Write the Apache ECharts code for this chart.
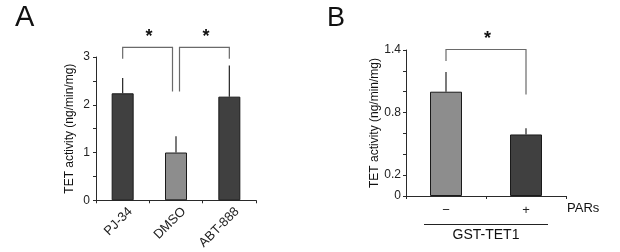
<!DOCTYPE html>
<html>
<head>
<meta charset="utf-8">
<script src="https://cdn.jsdelivr.net/npm/echarts@6/dist/echarts.min.js"></script>
<style>
html,body{margin:0;padding:0;background:#fff;}
#chart{width:620px;height:252px;}
</style>
</head>
<body>
<div id="chart"></div>
<script>
// ---- Data: panel A ----
const categoriesA = ['PJ-34', 'DMSO', 'ABT-888'];
const valuesA = [2.24, 1.00, 2.17];
const errorsA = [0.32, 0.34, 0.65];
// [leftCategory, rightCategory, top, leftLegEnd, rightLegEnd]
const bracketsA = [[0, 1, 3.20, 2.965, 2.28], [1, 2, 3.20, 2.28, 2.965]];
const yLabelsA = [0, 1, 2, 3];

// ---- Data: panel B ----
const categoriesB = ['\u2212', '+'];
const valuesB = [1.00, 0.59];
const errorsB = [0.19, 0.06];
const bracketsB = [[0, 1, 1.405, 1.294, 0.974]];
const yLabelsB = [0, 0.2, 0.8, 1.4];

const yNameText = 'TET activity (ng/min/mg)';
const panelLabels = ['A', 'B'];
const groupLabelB = 'GST-TET1';
const rowLabelB = 'PARs';
const sigMark = '*';

const FONT = '"Liberation Sans", Arial, Helvetica, sans-serif';
const DARK = '#404040', GRAY = '#8d8d8d', EDGE = '#1a1a1a', AXIS = '#2a2a2a';
const barColorsA = [DARK, GRAY, DARK];
const barColorsB = [GRAY, DARK];

function errorSeries(axisIdx, vals, errs) {
  return {
    type: 'custom', xAxisIndex: axisIdx, yAxisIndex: axisIdx, z: 1,
    data: vals.map((v, i) => [i, v, v + errs[i]]),
    encode: { x: 0, y: [1, 2] },
    renderItem: function (params, api) {
      const p0 = api.coord([api.value(0), api.value(1)]);
      const p1 = api.coord([api.value(0), api.value(2)]);
      return { type: 'line', shape: { x1: p0[0], y1: p0[1], x2: p1[0], y2: p1[1] },
        style: { stroke: '#222', lineWidth: 1.2 } };
    }
  };
}

function bracketSeries(axisIdx, brackets) {
  const count = {};
  brackets.forEach(b => { count[b[0]] = (count[b[0]] || 0) + 1; count[b[1]] = (count[b[1]] || 0) + 1; });
  return {
    type: 'custom', xAxisIndex: axisIdx, yAxisIndex: axisIdx, z: 3, clip: false,
    data: brackets,
    encode: { x: [0, 1], y: [2, 3, 4] },
    renderItem: function (params, api) {
      const li = api.value(0), ri = api.value(1);
      const top = api.value(2), le = api.value(3), re = api.value(4);
      const lTop = api.coord([li, top]);
      const rTop = api.coord([ri, top]);
      const lx = lTop[0] + (count[li] > 1 ? 3.5 : 0);
      const rx = rTop[0] - (count[ri] > 1 ? 3.5 : 0);
      const ly = api.coord([li, le])[1];
      const ry = api.coord([ri, re])[1];
      const ty = lTop[1];
      return {
        type: 'group',
        children: [
          { type: 'polyline', shape: { points: [[lx, ly], [lx, ty], [rx, ty], [rx, ry]] },
            style: { stroke: '#6a6a6a', lineWidth: 1.2, fill: null } },
          { type: 'text', style: { text: sigMark, x: (lx + rx) / 2 + 1.5, y: ty - 10,
            align: 'center', verticalAlign: 'middle', font: 'bold 18px ' + FONT, fill: '#111' } }
        ]
      };
    }
  };
}

const axisLineStyle = { show: true, lineStyle: { color: AXIS, width: 1 } };
const labelBase = { color: '#222', fontFamily: FONT };

const option = {
  animation: false,
  backgroundColor: '#fff',
  grid: [
    { left: 96, top: 57, width: 160, height: 146 },
    { left: 406, top: 50, width: 160, height: 146 }
  ],
  xAxis: [
    { type: 'category', gridIndex: 0, data: categoriesA,
      axisLine: axisLineStyle, axisTick: { show: true, length: 3, lineStyle: { color: AXIS } },
      axisLabel: Object.assign({}, labelBase, { rotate: 45, fontSize: 13, margin: 17, interval: 0,
        padding: [0, -11, 0, 0] }) },
    { type: 'category', gridIndex: 1, data: categoriesB,
      axisLine: axisLineStyle, axisTick: { show: true, length: 3, lineStyle: { color: AXIS } },
      axisLabel: Object.assign({}, labelBase, { fontSize: 13, margin: 8, interval: 0 }),
      name: groupLabelB, nameLocation: 'middle', nameGap: 32,
      nameTextStyle: { fontFamily: FONT, fontSize: 14, color: '#111' } }
  ],
  yAxis: [
    { type: 'value', gridIndex: 0, min: 0, max: 3, interval: 0.5,
      axisLine: axisLineStyle, splitLine: { show: false },
      axisTick: { show: true, length: 3, lineStyle: { color: AXIS } },
      axisLabel: Object.assign({}, labelBase, { fontSize: 12, margin: 6, customValues: yLabelsA }),
      name: yNameText, nameLocation: 'middle', nameRotate: 90, nameGap: 20,
      nameTextStyle: { fontFamily: FONT, fontSize: 12, color: '#111' } },
    { type: 'value', gridIndex: 1, min: 0, max: 1.4, interval: 0.2,
      axisLine: axisLineStyle, splitLine: { show: false },
      axisTick: { show: true, length: 3, lineStyle: { color: AXIS } },
      axisLabel: Object.assign({}, labelBase, { fontSize: 12, margin: 5, customValues: yLabelsB }),
      name: yNameText, nameLocation: 'middle', nameRotate: 90, nameGap: 25,
      nameTextStyle: { fontFamily: FONT, fontSize: 12, color: '#111' } }
  ],
  series: [
    { type: 'bar', xAxisIndex: 0, yAxisIndex: 0, barWidth: 22, z: 2,
      data: valuesA.map((v, i) => ({ value: v,
        itemStyle: { color: barColorsA[i], borderColor: EDGE, borderWidth: 1 } })) },
    errorSeries(0, valuesA, errorsA),
    bracketSeries(0, bracketsA),
    { type: 'bar', xAxisIndex: 1, yAxisIndex: 1, barWidth: 32, z: 2,
      data: valuesB.map((v, i) => ({ value: v,
        itemStyle: { color: barColorsB[i], borderColor: EDGE, borderWidth: 1 } })) },
    errorSeries(1, valuesB, errorsB),
    bracketSeries(1, bracketsB)
  ],
  graphic: [
    { type: 'text', left: 15, top: 3, style: { text: panelLabels[0], font: '29px ' + FONT, fill: '#111' } },
    { type: 'text', left: 327, top: 5, style: { text: panelLabels[1], font: '27px ' + FONT, fill: '#111' } },
    { type: 'text', left: 567, top: 202, style: { text: rowLabelB, font: '13px ' + FONT, fill: '#111' } },
    { type: 'line', shape: { x1: 424, y1: 224.5, x2: 548, y2: 224.5 }, style: { stroke: '#222', lineWidth: 1 } }
  ]
};

const chart = echarts.init(document.getElementById('chart'), null, { renderer: 'canvas' });
chart.setOption(option);
</script>
</body>
</html>
